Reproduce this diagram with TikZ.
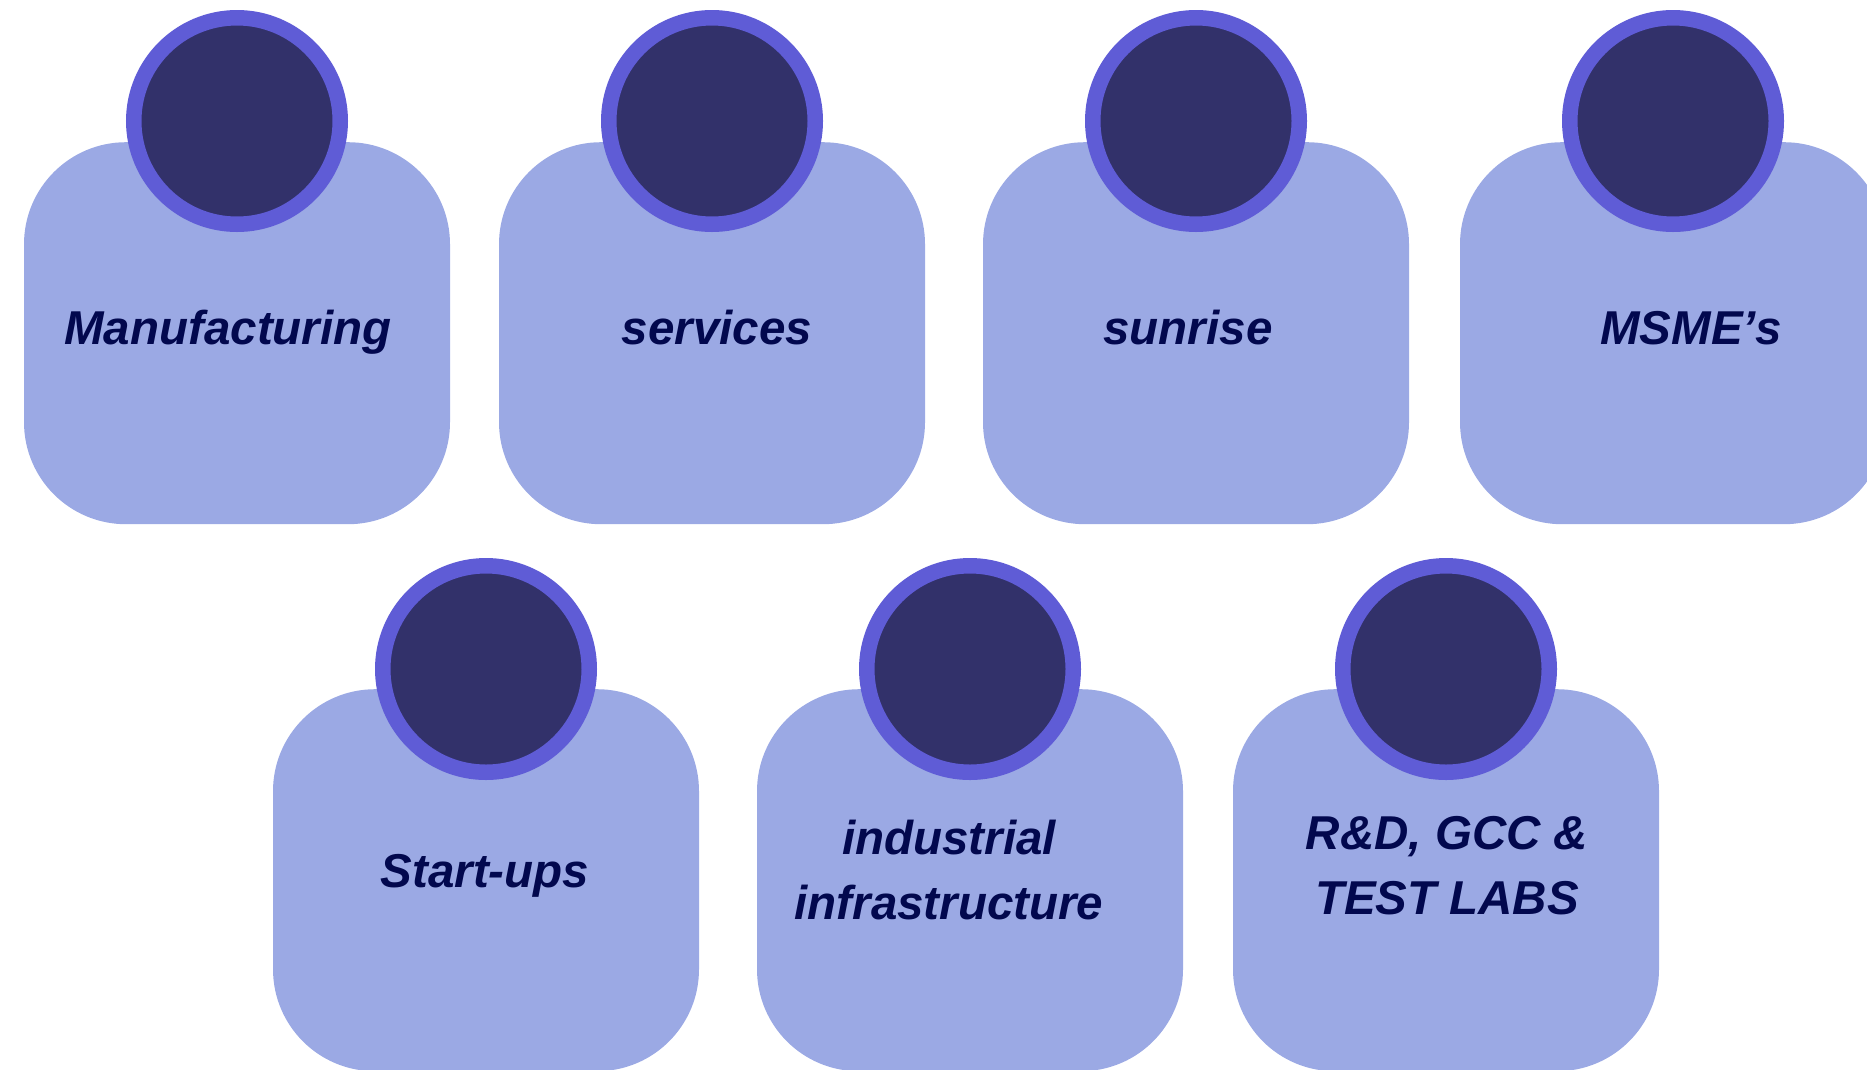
\documentclass[tikz,border=0pt]{standalone}
\usepackage{fontspec}
\setmainfont{Liberation Sans}
\definecolor{cardfill}{RGB}{155,169,228}
\definecolor{ringblue}{RGB}{95,92,214}
\definecolor{headfill}{RGB}{50,49,106}
\definecolor{labelnavy}{RGB}{2,8,78}
\tikzset{
  card/.style={fill=cardfill, draw=none, rounded corners=102pt,
    minimum width=426pt, minimum height=382pt, inner sep=0pt, anchor=north},
  head/.style={circle, fill=headfill, draw=ringblue, line width=15.5pt,
    minimum size=206.5pt, inner sep=0pt},
  label/.style={text=labelnavy, inner sep=0pt, anchor=base, align=center,
    font=\fontsize{47.5}{65}\selectfont\bfseries\itshape},
}
\begin{document}
\begin{tikzpicture}[x=1pt,y=-1pt]
  \useasboundingbox (0,0) rectangle (1867,1069);
  \clip (0,0) rectangle (1867,1069);

  % top row
  \node[card] (c1) at (237,142) {};
  \node[card] (c2) at (712,142) {};
  \node[card] (c3) at (1196,142) {};
  \node[card] (c4) at (1673,142) {};
  \node[head] (h1) at (237,121) {};
  \node[head] (h2) at (712,121) {};
  \node[head] (h3) at (1196,121) {};
  \node[head] (h4) at (1673,121) {};
  \node[label] (t1) at (228,344) {Manufacturing};
  \node[label] (t2) at (717,344) {services};
  \node[label] (t3) at (1188,344) {sunrise};
  \node[label] (t4) at (1691,344) {MSME’s};

  % bottom row (base anchor sits on the last line)
  \node[card] (c5) at (486,689) {};
  \node[card] (c6) at (970,689) {};
  \node[card] (c7) at (1446,689) {};
  \node[head] (h5) at (486,669) {};
  \node[head] (h6) at (970,669) {};
  \node[head] (h7) at (1446,669) {};
  \node[label] (t5) at (485,887) {Start-ups};
  \node[label] (t6) at (949,919) {industrial\\infrastructure};
  \node[label] (t7) at (1447,914) {R\&D, GCC \&\\TEST LABS};
\end{tikzpicture}
\end{document}
